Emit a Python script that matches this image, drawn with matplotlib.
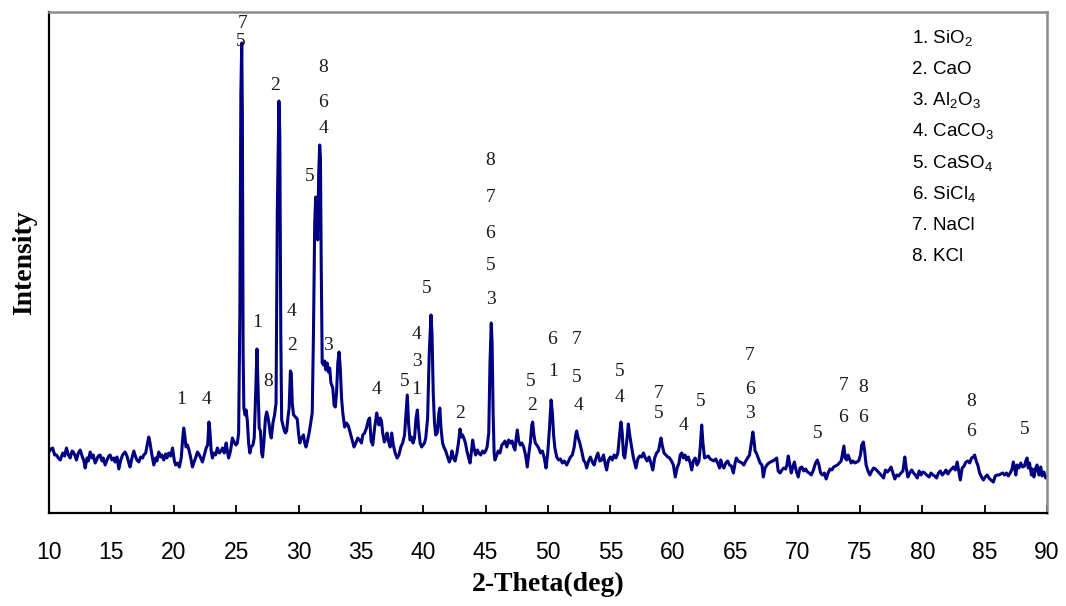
import matplotlib
matplotlib.use("Agg")
import matplotlib.pyplot as plt

plt.rcParams["mathtext.fontset"] = "custom"
plt.rcParams["mathtext.rm"] = "Liberation Sans"
plt.rcParams["mathtext.it"] = "Liberation Sans:italic"
plt.rcParams["mathtext.bf"] = "Liberation Sans:bold"

# XRD pattern: 2-theta (deg) and relative intensity (a.u.)
two_theta = [
    10.0, 10.15, 10.3, 10.45, 10.6, 10.75, 10.9, 11.1, 11.25, 11.4, 11.55, 11.7, 11.85, 11.95,
    12.1, 12.2, 12.35, 12.5, 12.65, 12.8, 12.9, 13.05, 13.15, 13.3, 13.45, 13.55, 13.7, 13.85,
    13.95, 14.1, 14.25, 14.35, 14.5, 14.65, 14.8, 14.9, 15.05, 15.2, 15.3, 15.45, 15.6, 15.75,
    15.9, 16.1, 16.25, 16.4, 16.5, 16.65, 16.8, 16.95, 17.05, 17.2, 17.35, 17.5, 17.6, 17.75,
    17.9, 18.0, 18.1, 18.25, 18.4, 18.55, 18.65, 18.8, 18.95, 19.05, 19.2, 19.35, 19.45, 19.6,
    19.75, 19.9, 20.05, 20.15, 20.3, 20.45, 20.6, 20.72, 20.8, 20.88, 20.98, 21.1, 21.2, 21.35,
    21.5, 21.6, 21.75, 21.9, 22.05, 22.2, 22.3, 22.45, 22.6, 22.72, 22.82, 22.9, 23.0, 23.1,
    23.2, 23.35, 23.5, 23.65, 23.8, 23.9, 24.05, 24.2, 24.3, 24.4, 24.55, 24.7, 24.8, 24.98,
    25.1, 25.2, 25.3, 25.38, 25.45, 25.5, 25.56, 25.62, 25.72, 25.8, 25.9, 26.0, 26.1, 26.2,
    26.35, 26.45, 26.58, 26.67, 26.75, 26.85, 26.95, 27.05, 27.12, 27.22, 27.35, 27.45, 27.55,
    27.65, 27.75, 27.82, 27.95, 28.08, 28.2, 28.3, 28.43, 28.5, 28.58, 28.65, 28.75, 28.85,
    28.95, 29.05, 29.15, 29.25, 29.35, 29.42, 29.5, 29.6, 29.7, 29.82, 29.9, 30.0, 30.1, 30.2,
    30.3, 30.4, 30.5, 30.6, 30.72, 30.85, 30.98, 31.1, 31.2, 31.3, 31.38, 31.46, 31.54, 31.62,
    31.7, 31.76, 31.82, 31.9, 32.0, 32.1, 32.2, 32.3, 32.4, 32.5, 32.6, 32.75, 32.85, 32.95,
    33.05, 33.15, 33.25, 33.35, 33.45, 33.55, 33.7, 33.85, 34.0, 34.15, 34.3, 34.45, 34.6,
    34.75, 34.9, 35.05, 35.15, 35.3, 35.45, 35.6, 35.7, 35.82, 35.95, 36.1, 36.27, 36.35,
    36.45, 36.55, 36.65, 36.75, 36.88, 37.0, 37.1, 37.2, 37.35, 37.47, 37.6, 37.75, 37.9,
    38.05, 38.2, 38.35, 38.5, 38.62, 38.72, 38.82, 38.94, 39.05, 39.18, 39.3, 39.42, 39.53,
    39.62, 39.75, 39.87, 39.98, 40.1, 40.2, 40.35, 40.48, 40.62, 40.7, 40.8, 40.9, 41.0,
    41.12, 41.25, 41.33, 41.42, 41.55, 41.65, 41.8, 41.95, 42.09, 42.2, 42.3, 42.42, 42.55,
    42.7, 42.82, 42.95, 43.05, 43.15, 43.25, 43.38, 43.5, 43.62, 43.75, 43.85, 43.96, 44.05,
    44.2, 44.35, 44.45, 44.6, 44.75, 44.88, 45.0, 45.12, 45.25, 45.35, 45.45, 45.52, 45.6,
    45.68, 45.75, 45.9, 46.0, 46.15, 46.3, 46.45, 46.55, 46.7, 46.85, 47.0, 47.12, 47.25,
    47.35, 47.45, 47.54, 47.65, 47.78, 47.9, 48.05, 48.2, 48.34, 48.45, 48.6, 48.7, 48.77,
    48.87, 48.98, 49.1, 49.25, 49.4, 49.55, 49.7, 49.84, 49.98, 50.12, 50.25, 50.35, 50.45,
    50.55, 50.7, 50.85, 51.0, 51.15, 51.3, 51.5, 51.65, 51.8, 51.95, 52.1, 52.22, 52.3, 52.4,
    52.55, 52.7, 52.85, 53.0, 53.1, 53.25, 53.4, 53.55, 53.7, 53.85, 54.0, 54.15, 54.3,
    54.45, 54.6, 54.7, 54.85, 55.0, 55.15, 55.3, 55.45, 55.6, 55.75, 55.85, 55.95, 56.05,
    56.15, 56.3, 56.44, 56.55, 56.7, 56.85, 57.05, 57.2, 57.35, 57.5, 57.65, 57.8, 57.95,
    58.1, 58.25, 58.4, 58.55, 58.7, 58.85, 58.95, 59.06, 59.15, 59.3, 59.45, 59.6, 59.75,
    59.9, 60.05, 60.2, 60.35, 60.5, 60.6, 60.72, 60.85, 60.98, 61.1, 61.25, 61.4, 61.52,
    61.65, 61.8, 61.95, 62.1, 62.2, 62.32, 62.42, 62.55, 62.7, 62.85, 63.0, 63.15, 63.3,
    63.45, 63.6, 63.75, 63.85, 63.95, 64.1, 64.25, 64.4, 64.55, 64.7, 64.86, 65.0, 65.1,
    65.25, 65.4, 65.55, 65.7, 65.85, 66.0, 66.15, 66.3, 66.42, 66.52, 66.6, 66.7, 66.85,
    67.0, 67.15, 67.26, 67.4, 67.55, 67.7, 67.85, 68.0, 68.15, 68.33, 68.45, 68.6, 68.75,
    68.9, 69.05, 69.15, 69.26, 69.4, 69.5, 69.6, 69.75, 69.9, 70.06, 70.2, 70.35, 70.5,
    70.65, 70.8, 70.95, 71.1, 71.25, 71.45, 71.59, 71.72, 71.85, 72.0, 72.15, 72.3, 72.45,
    72.6, 72.75, 72.9, 73.05, 73.2, 73.35, 73.5, 73.62, 73.72, 73.82, 73.95, 74.05, 74.15,
    74.3, 74.45, 74.6, 74.75, 74.9, 75.05, 75.15, 75.28, 75.38, 75.5, 75.65, 75.8, 75.95,
    76.1, 76.25, 76.4, 76.55, 76.7, 76.9, 77.05, 77.2, 77.35, 77.5, 77.65, 77.8, 77.95,
    78.1, 78.3, 78.45, 78.6, 78.72, 78.85, 79.0, 79.15, 79.3, 79.45, 79.6, 79.75, 79.9,
    80.05, 80.2, 80.35, 80.55, 80.7, 80.85, 81.0, 81.15, 81.3, 81.45, 81.6, 81.75, 81.9,
    82.05, 82.2, 82.35, 82.5, 82.65, 82.8, 82.95, 83.05, 83.2, 83.35, 83.5, 83.65, 83.8,
    83.95, 84.1, 84.2, 84.32, 84.45, 84.6, 84.75, 84.9, 85.05, 85.2, 85.35, 85.5, 85.7,
    85.85, 86.0, 86.15, 86.3, 86.45, 86.6, 86.75, 86.9, 87.05, 87.2, 87.3, 87.4, 87.5,
    87.6, 87.75, 87.9, 88.05, 88.2, 88.3, 88.4, 88.5, 88.6, 88.75, 88.85, 88.95, 89.1,
    89.2, 89.35, 89.5, 89.6, 89.75, 89.9, 90.0,
]

intensity = [
    61, 64, 65, 58, 58, 55, 53, 60, 57, 65, 58, 55, 62, 61,
    57, 53, 60, 63, 57, 52, 45, 55, 52, 61, 55, 58, 50, 54,
    57, 58, 52, 55, 48, 53, 57, 58, 53, 55, 51, 56, 44, 53,
    58, 61, 57, 50, 46, 55, 62, 56, 53, 51, 56, 55, 58, 60,
    70, 76, 70, 58, 48, 55, 52, 61, 56, 58, 53, 59, 55, 60,
    57, 65, 52, 48, 50, 46, 55, 75, 85, 78, 66, 68, 64, 56,
    46, 50, 55, 61, 58, 54, 51, 58, 65, 68, 91, 82, 62, 55,
    60, 58, 65, 60, 62, 65, 60, 70, 62, 55, 62, 75, 72, 68,
    70, 80, 200, 420, 470, 400, 160, 105, 98, 103, 92, 70, 60, 66,
    68, 75, 125, 164, 130, 85, 82, 60, 56, 70, 95, 101, 96,
    88, 78, 75, 90, 98, 110, 300, 412, 380, 180, 93, 88, 83,
    80, 82, 95, 105, 142, 140, 110, 98, 97, 95, 94, 80, 70, 74,
    76, 78, 70, 66, 72, 80, 90, 100, 180, 290, 316, 300, 273, 340,
    368, 355, 250, 150, 148, 152, 143, 150, 141, 145, 130, 125, 108, 106,
    120, 150, 161, 145, 115, 100, 86, 90, 87, 80, 73, 66, 70,
    75, 73, 70, 78, 80, 85, 93, 95, 72, 68, 85, 100, 94,
    88, 95, 92, 80, 71, 75, 80, 72, 66, 80, 68, 60, 55,
    58, 66, 70, 78, 100, 118, 90, 73, 76, 70, 75, 95, 103,
    85, 70, 66, 68, 70, 75, 95, 160, 198, 180, 120, 90, 78,
    80, 100, 105, 85, 70, 66, 62, 56, 51, 55, 62, 55, 52,
    60, 70, 84, 76, 78, 75, 70, 62, 56, 50, 60, 73, 66,
    58, 63, 60, 58, 62, 60, 62, 66, 80, 150, 190, 170, 100,
    60, 53, 58, 62, 60, 68, 70, 72, 66, 73, 70, 72, 66,
    63, 75, 83, 72, 68, 70, 66, 58, 46, 58, 72, 88, 91,
    78, 70, 68, 65, 60, 62, 55, 45, 60, 85, 113, 100, 78,
    65, 56, 53, 54, 50, 52, 48, 52, 56, 58, 66, 78, 82, 76,
    70, 62, 53, 50, 45, 52, 56, 51, 48, 55, 60, 52, 53,
    58, 48, 43, 53, 56, 53, 58, 55, 60, 80, 91, 80, 58,
    55, 70, 89, 78, 66, 55, 45, 54, 57, 56, 60, 55, 52,
    56, 50, 43, 55, 60, 62, 68, 75, 68, 60, 58, 56, 55,
    52, 48, 36, 45, 50, 58, 60, 55, 58, 53, 56, 50, 43,
    52, 55, 48, 52, 65, 88, 70, 55, 56, 57, 54, 53, 52,
    54, 50, 45, 53, 48, 45, 50, 52, 48, 47, 40, 50, 55,
    52, 51, 50, 48, 52, 55, 58, 70, 81, 72, 62, 60, 55,
    50, 48, 36, 45, 48, 50, 51, 52, 53, 55, 42, 40, 43,
    45, 44, 48, 57, 47, 40, 45, 51, 42, 36, 45, 46, 42,
    44, 41, 40, 38, 42, 50, 53, 48, 40, 38, 40, 34, 40,
    44, 43, 46, 47, 48, 50, 52, 60, 67, 55, 53, 58, 55,
    50, 52, 50, 51, 52, 58, 68, 71, 62, 48, 42, 38, 42,
    45, 44, 42, 40, 38, 35, 43, 41, 43, 46, 40, 34, 38,
    37, 40, 42, 56, 45, 36, 40, 43, 40, 38, 35, 42, 38,
    41, 40, 38, 36, 40, 38, 37, 35, 40, 42, 38, 40, 43,
    39, 42, 44, 46, 43, 51, 40, 33, 45, 47, 51, 52, 50,
    55, 56, 58, 52, 48, 40, 36, 33, 36, 38, 35, 33, 31,
    37, 38, 38, 39, 40, 38, 40, 37, 40, 44, 51, 45, 38,
    48, 45, 50, 46, 47, 52, 55, 45, 50, 38, 44, 36, 45,
    48, 38, 46, 37, 41, 35, 36,
]

# Phase markers above the reflections: position, height, phase number
mark_theta = [
    25.55, 25.39, 28.12, 31.99, 31.99, 31.99, 30.87,
    26.65, 29.46, 29.46, 27.58, 32.39, 20.58, 22.64,
    36.27, 38.48, 40.24, 39.47, 39.47, 39.46, 42.95,
    45.39, 45.39, 45.39, 45.39, 45.39, 48.61, 48.74,
    50.35, 50.42, 52.30, 52.30, 52.48, 55.77, 55.77,
    58.90, 58.90, 60.85, 62.24, 66.19, 66.19, 66.19,
    71.59, 73.67, 73.67, 75.23, 75.23, 83.88, 83.88, 88.24,
]
mark_height = [
    490, 471, 428, 445, 411, 384.5, 337,
    190.5, 202, 168, 131, 168, 114, 114,
    124, 131.5, 224.5, 178.5, 152, 123, 100,
    352.5, 316, 280, 247, 213, 132, 107,
    174, 141.5, 174, 136, 107.5, 141.5, 115,
    119.5, 99, 87, 112, 158, 123.5, 99.5,
    80, 128, 96, 126, 96, 111, 81, 84,
]
mark_label = [
    "7", "5", "2", "8", "6", "4", "5",
    "1", "4", "2", "8", "3", "1", "4",
    "4", "5", "5", "4", "3", "1", "2",
    "8", "7", "6", "5", "3", "5", "2",
    "6", "1", "7", "5", "4", "5", "4",
    "7", "5", "4", "5", "7", "6", "3",
    "5", "7", "6", "8", "6", "8", "6", "5",
]

phases = [
    "1. SiO$_2$", "2. CaO", "3. Al$_2$O$_3$", "4. CaCO$_3$",
    "5. CaSO$_4$", "6. SiCl$_4$", "7. NaCl", "8. KCl",
]

x_ticks = list(range(10, 95, 5))

fig = plt.figure(figsize=(10.66, 6.06), dpi=100)
ax = fig.add_axes([49 / 1066, 93 / 606, 998 / 1066, 501 / 606])

ax.plot(two_theta, intensity, color="#000080", linewidth=2.2, solid_joinstyle="round")

for t, h, s in zip(mark_theta, mark_height, mark_label):
    ax.text(t, h, s, ha="center", va="center", fontsize=14,
            family="Liberation Serif", color="#1a1a1a")

for i, name in enumerate(phases):
    ax.text(0.8647, (513 - (43.3 + 31.06 * i)) / 501, name,
            transform=ax.transAxes, ha="left", va="baseline",
            fontsize=13.5, family="Liberation Sans", color="black")

ax.set_xlim(10, 90)
ax.set_ylim(0, 501)
ax.set_xticks(x_ticks)
ax.set_xticklabels([str(v) for v in x_ticks], family="Liberation Sans", fontsize=16.5)
ax.set_yticks([])
ax.tick_params(axis="x", direction="in", length=6, width=1.3, pad=20, colors="black")

for side in ("left", "bottom"):
    ax.spines[side].set_color("black")
    ax.spines[side].set_linewidth(1.6)
for side in ("top", "right"):
    ax.spines[side].set_color("#8c8c8c")
    ax.spines[side].set_linewidth(1.8)

ax.set_xlabel("2-Theta(deg)", family="Liberation Serif", fontweight="bold", fontsize=20)
ax.xaxis.label.set_va("center")
ax.xaxis.set_label_coords(0.5, (513 - 584) / 501)
ax.set_ylabel("Intensity", family="Liberation Serif", fontweight="bold", fontsize=20)
ax.yaxis.label.set_va("center")
ax.yaxis.set_label_coords((25 - 49) / 998, 0.5)

fig.savefig("out.png", dpi=100)
